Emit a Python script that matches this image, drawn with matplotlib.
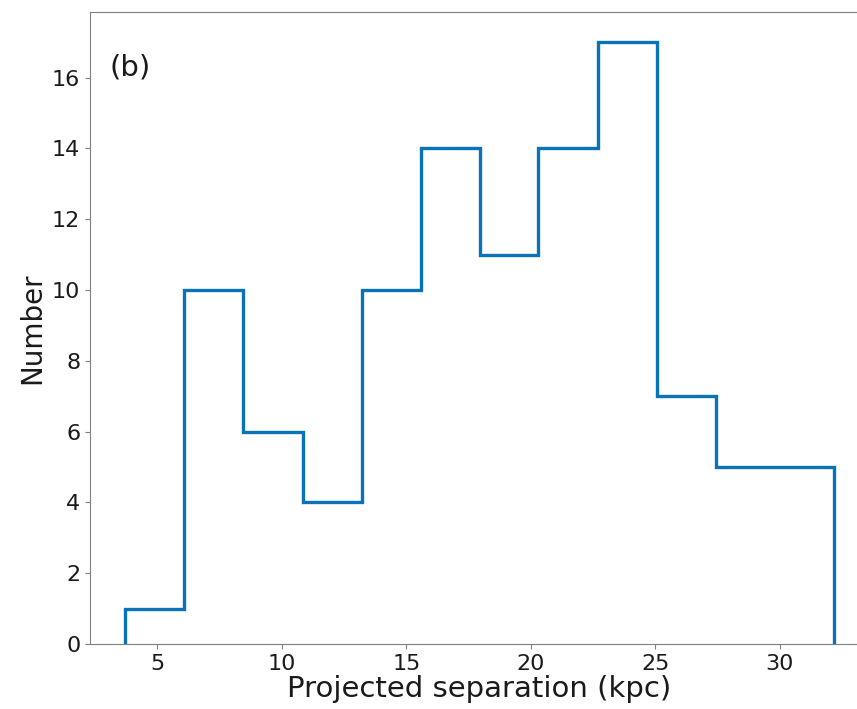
import numpy as np
import matplotlib
matplotlib.use("Agg")
import matplotlib.pyplot as plt

# histogram
bin_edges = [3.71, 6.08, 8.45, 10.83, 13.20, 15.57, 17.94, 20.31, 22.69, 25.06, 27.43, 29.80, 32.17]
counts = [1, 10, 6, 4, 10, 14, 11, 14, 17, 7, 5, 5]


def main():
    fig = plt.figure(figsize=(8.57, 7.09), dpi=100)
    ax = fig.add_axes([90 / 857, 65 / 709, 779 / 857, 632 / 709])

    ax.stairs(counts, bin_edges, baseline=0, color="#0a72b8", linewidth=2.4)

    ax.set_xlim(2.29, 33.59)
    ax.set_ylim(0, 17.85)
    ax.set_xticks([5, 10, 15, 20, 25, 30])
    ax.set_yticks(range(0, 17, 2))

    for s in ax.spines.values():
        s.set_color("#808080")
    ax.tick_params(colors="#808080", labelcolor="#1a1a1a", labelsize=16)

    ax.set_xlabel("Projected separation (kpc)", fontsize=21, color="#1a1a1a", labelpad=1)
    ax.set_ylabel("Number", fontsize=20, color="#1a1a1a")
    ax.text(0.025, 0.9, "(b)", transform=ax.transAxes, fontsize=21, color="#1a1a1a")

    fig.savefig("out.png", dpi=100)
    plt.close(fig)


if __name__ == "__main__":
    main()
